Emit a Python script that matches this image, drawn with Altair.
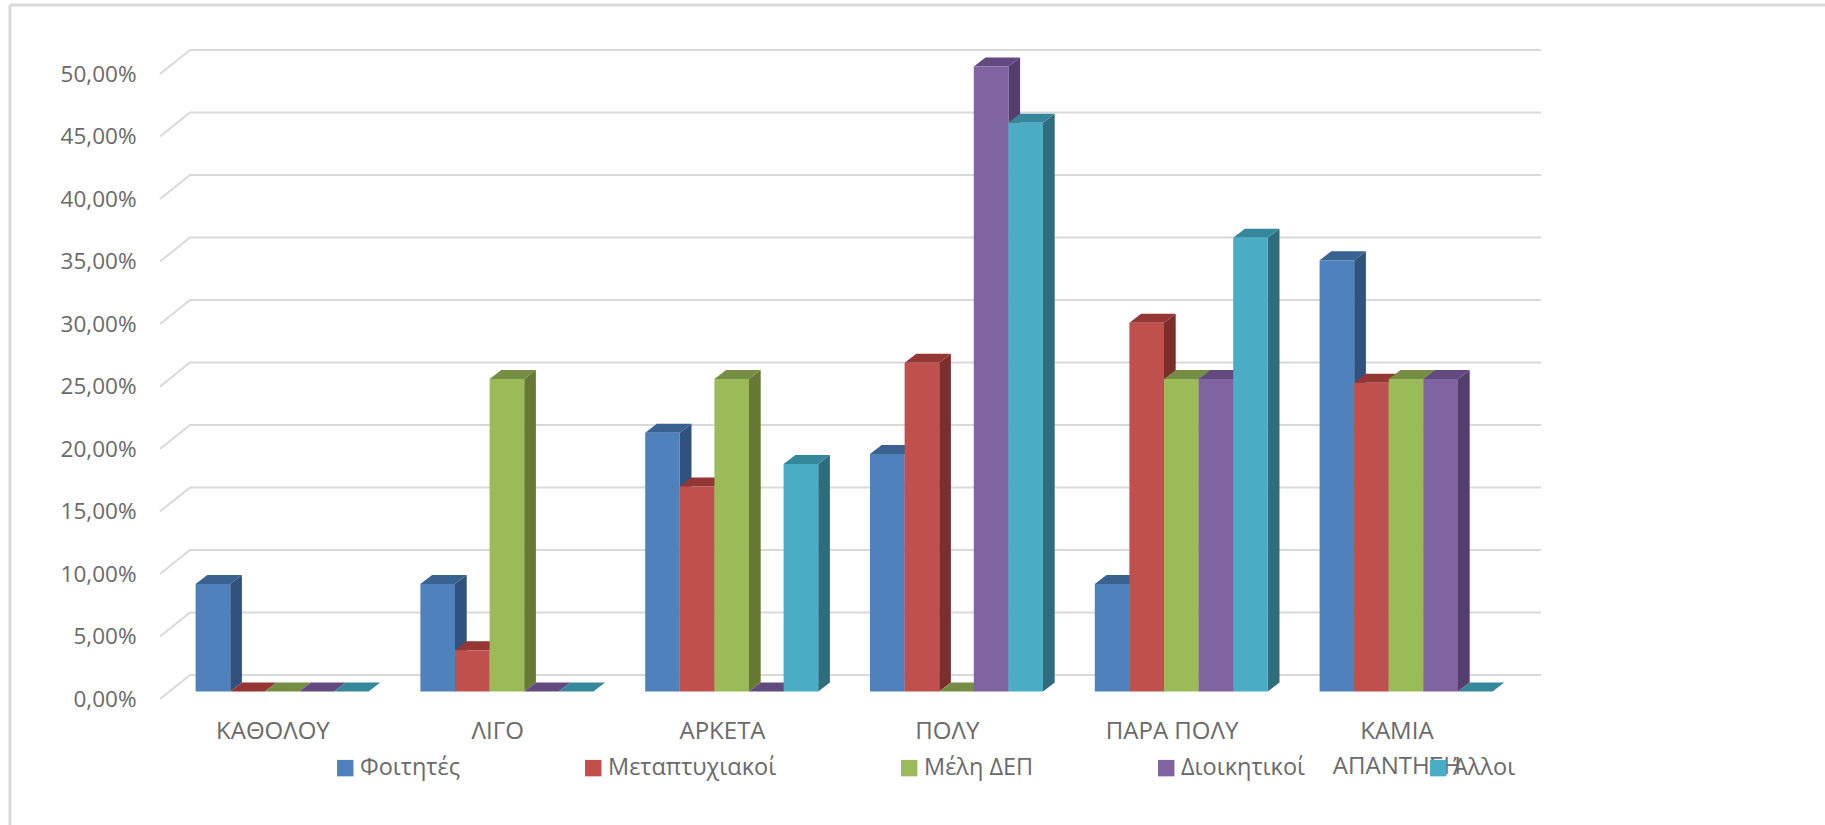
import json
import altair as alt
import pandas as pd

categories = ["ΚΑΘΟΛΟΥ", "ΛΙΓΟ", "ΑΡΚΕΤΑ", "ΠΟΛΥ", "ΠΑΡΑ ΠΟΛΥ", ["ΚΑΜΙΑ", "ΑΠΑΝΤΗΣΗ"]]
series = ["Φοιτητές", "Μεταπτυχιακοί", "Μέλη ΔΕΠ", "Διοικητικοί", "Άλλοι"]

students = [8.6, 8.6, 20.7, 19.0, 8.6, 34.5]
postgraduates = [0, 3.3, 16.4, 26.3, 29.5, 24.7]
faculty = [0, 25.0, 25.0, 0, 25.0, 25.0]
administrative = [0, 0, 0, 50.0, 25.0, 25.0]
others = [0, 0, 18.2, 45.5, 36.3, 0]
values = [students, postgraduates, faculty, administrative, others]

front_colors = ["#4F81BD", "#C0504D", "#9BBB59", "#8064A2", "#4BACC6"]
side_colors = ["#31527C", "#7B2F2D", "#667A36", "#533E6E", "#2F6D7D"]
top_colors = ["#3A6291", "#933634", "#768E44", "#624A80", "#36879B"]
y_ticks = [0, 5, 10, 15, 20, 25, 30, 35, 40, 45, 50]

# Layout of the pseudo-3D scene, in axis units (one x unit is one category band).
BAND_PX = 224.8
PCT_PX = 12.5
BAR_START = 35.6 / BAND_PX
BAR_WIDTH = 34.6 / BAND_PX
BAR_DX = 11.7 / BAND_PX
BAR_DY = 9 / PCT_PX
WALL_DX = 30 / BAND_PX
FLOOR_Y = -7.5 / PCT_PX
WALL_Y = 16.5 / PCT_PX
X_MAX = 1381 / BAND_PX
Y_MAX = 641.5 / PCT_PX
FONT = "Open Sans"
TEXT = "#6A6A6A"

x_scale = alt.Scale(domain=[0, X_MAX], nice=False, zero=False)
y_scale = alt.Scale(domain=[FLOOR_Y, Y_MAX], nice=False, zero=False)
color_scale = alt.Scale(domain=series, range=front_colors)

labels_js = json.dumps(categories, ensure_ascii=False)

x_axis = alt.Axis(
    values=[i + 0.5 for i in range(len(categories))],
    labelExpr=f"{labels_js}[round(datum.value - 0.5)]",
    grid=False,
    domain=False,
    ticks=False,
    labelFont=FONT,
    labelFontSize=24,
    labelColor=TEXT,
    labelPadding=20,
    labelLineHeight=35,
    labelBaseline="top",
    labelOverlap=False,
    labelFlush=False,
    title=None,
)
y_axis = alt.Axis(
    values=y_ticks,
    labelExpr="replace(format(datum.value, '.2f'), '.', ',') + '%'",
    grid=False,
    domain=False,
    ticks=False,
    labelFont=FONT,
    labelFontSize=22.5,
    labelColor=TEXT,
    labelPadding=24,
    labelOffset=7.5,
    labelOverlap=False,
    labelFlush=False,
    title=None,
)

# Back wall: each gridline runs in from the front edge, then across the wall.
grid_rows = []
for t in y_ticks:
    grid_rows += [
        {"tick": t, "order": 0, "x": 0, "y": t + FLOOR_Y},
        {"tick": t, "order": 1, "x": WALL_DX, "y": t + WALL_Y},
        {"tick": t, "order": 2, "x": X_MAX, "y": t + WALL_Y},
    ]

grid = (
    alt.Chart(pd.DataFrame(grid_rows))
    .mark_line(color="#D9D9D9", strokeWidth=2)
    .encode(
        x=alt.X("x:Q", scale=x_scale, axis=x_axis),
        y=alt.Y("y:Q", scale=y_scale, axis=y_axis),
        detail="tick:N",
        order="order:Q",
    )
)

# Outer frame along the left and top edges of the chart.
frame_left = alt.Chart().mark_rule(color="#D9D9D9", strokeWidth=3).encode(
    x=alt.value(-150), y=alt.value(-45), y2=alt.value(775)
)
frame_top = alt.Chart().mark_rule(color="#D9D9D9", strokeWidth=3).encode(
    y=alt.value(-45), x=alt.value(-150), x2=alt.value(1665)
)

layers = [frame_left, frame_top, grid]

# Bars are painted left to right so each one hides the side of its neighbour.
for s, name in enumerate(series):
    side_rows, top_rows, front_rows = [], [], []
    for c, v in enumerate(values[s]):
        x0 = c + BAR_START + s * BAR_WIDTH
        x1 = x0 + BAR_WIDTH
        front_rows.append({"series": name, "x": x0, "x2": x1, "y": v, "y2": 0})
        side_rows += [
            {"bar": c, "x": x1, "y": v, "y2": 0},
            {"bar": c, "x": x1 + BAR_DX, "y": v + BAR_DY, "y2": BAR_DY},
        ]
        top_rows += [
            {"bar": c, "y": v, "x": x0, "x2": x1},
            {"bar": c, "y": v + BAR_DY, "x": x0 + BAR_DX, "x2": x1 + BAR_DX},
        ]

    side = (
        alt.Chart(pd.DataFrame(side_rows))
        .mark_area(color=side_colors[s], opacity=1)
        .encode(
            x=alt.X("x:Q", scale=x_scale, axis=x_axis),
            y=alt.Y("y:Q", scale=y_scale, axis=y_axis),
            y2="y2:Q",
            detail="bar:N",
        )
    )
    top = (
        alt.Chart(pd.DataFrame(top_rows))
        .mark_area(color=top_colors[s], opacity=1, orient="horizontal")
        .encode(
            y=alt.Y("y:Q", scale=y_scale, axis=y_axis),
            x=alt.X("x:Q", scale=x_scale, axis=x_axis),
            x2="x2:Q",
            detail="bar:N",
        )
    )
    front = (
        alt.Chart(pd.DataFrame(front_rows))
        .mark_bar(opacity=1, cornerRadius=0)
        .encode(
            x=alt.X("x:Q", scale=x_scale, axis=x_axis),
            x2="x2:Q",
            y=alt.Y("y:Q", scale=y_scale, axis=y_axis),
            y2="y2:Q",
            color=alt.Color(
                "series:N",
                scale=color_scale,
                title=None,
                legend=alt.Legend(
                    orient="none",
                    legendX=173.5,
                    legendY=706,
                    direction="horizontal",
                    columns=5,
                    columnPadding=121,
                    symbolType="square",
                    symbolSize=270,
                    symbolStrokeWidth=0,
                    labelFont=FONT,
                    labelFontSize=23.5,
                    labelColor=TEXT,
                    labelOffset=3,
                    labelLimit=400,
                    gridAlign="each",
                ),
            ),
        )
    )
    layers += [side, top, front]

chart = alt.layer(*layers).properties(
    width=1381,
    height=649,
    autosize=alt.AutoSizeParams(type="none"),
    padding={"left": 160, "top": 50, "right": 284, "bottom": 126},
    background="white",
).configure_view(stroke=None)

chart.save("out.html", embed_options={"renderer": "svg", "actions": False})
